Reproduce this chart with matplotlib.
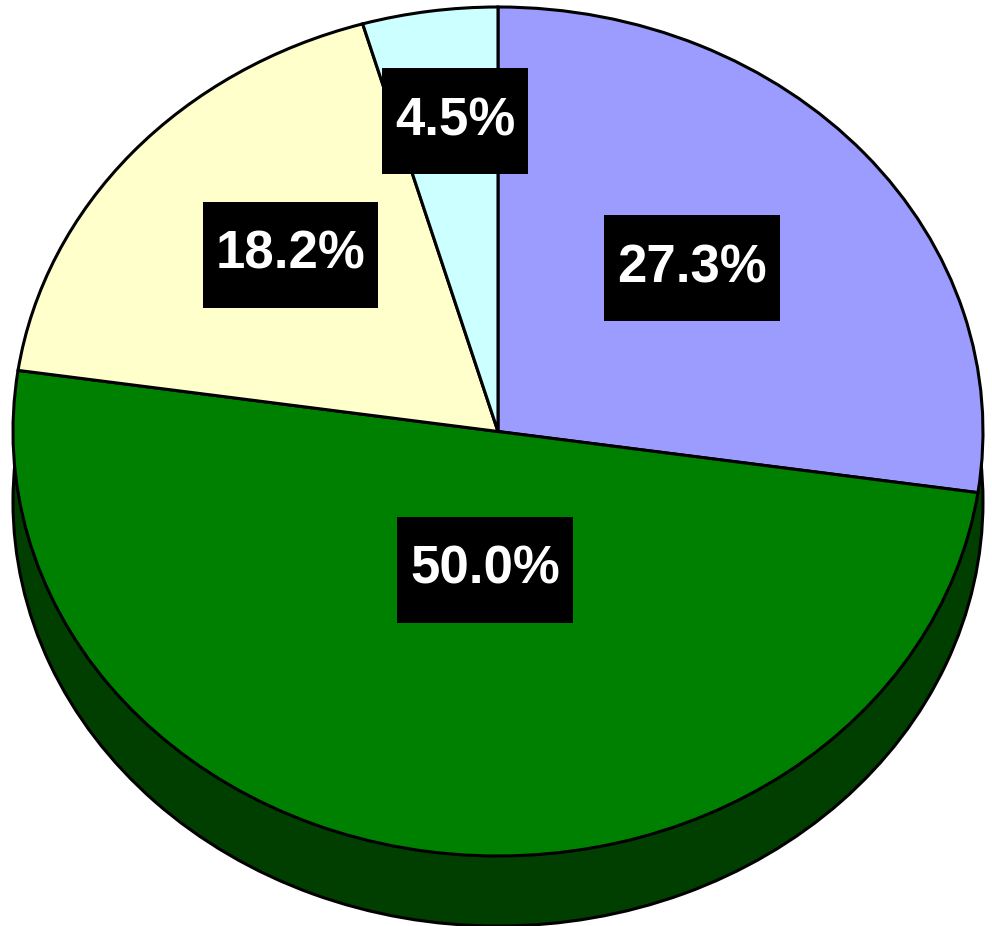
import matplotlib

matplotlib.use("Agg")
import matplotlib.pyplot as plt
import numpy as np
from matplotlib.patches import Rectangle
from matplotlib.transforms import ScaledTranslation

# slice values, clockwise from 12 o'clock
shares = [27.3, 50.0, 18.2, 4.5]
slice_colors = ["#9c9cff", "#008000", "#ffffcc", "#ccffff"]
side_color = "#003f00"

# where each percentage box sits: distance (fraction of radius) and
# angular nudge from the wedge bisector (degrees)
label_dist = [0.555, 0.327, 0.597, 0.736]
label_nudge = [3.0, 3.6, -3.2, -1.2]
depth = 0.165  # extrusion thickness in radius units

fig = plt.figure(figsize=(9.92, 9.26), dpi=100)
ax = fig.add_axes([0, 0, 1, 1])

edge = dict(edgecolor="black", linewidth=2.2)

# extruded side: a full dark green disc pushed down
ax.pie([100], colors=[side_color], center=(0, -depth), wedgeprops=edge)

wedges, _, pct_texts = ax.pie(
    shares,
    colors=slice_colors,
    startangle=90,
    counterclock=False,
    autopct="%1.1f%%",
    wedgeprops=edge,
)

for w, t, d, nudge in zip(wedges, pct_texts, label_dist, label_nudge):
    mid = np.deg2rad((w.theta1 + w.theta2) / 2 + nudge)
    t.set_position((d * np.cos(mid), d * np.sin(mid)))
    t.set_color("white")
    t.set_fontsize(38)
    t.set_fontweight("bold")
    t.set_family(["Liberation Sans", "DejaVu Sans"])
    t.set_zorder(6)

# stretch the pie into the ellipse of the original
ax.set_aspect("auto")
ax.set_xlim(-1.0268, 1.0186)
ax.set_ylim(-1.1649, 1.0165)
ax.axis("off")

# black label boxes: fixed height, width follows the text
fig.canvas.draw()
renderer = fig.canvas.get_renderer()
box_h = 1.06  # inches
for t in pct_texts:
    ext = t.get_window_extent(renderer)
    box_w = ext.width / fig.dpi + 0.26
    x, y = t.get_position()
    trans = fig.dpi_scale_trans + ScaledTranslation(x, y, ax.transData)
    ax.add_patch(Rectangle((-box_w / 2, -box_h / 2), box_w, box_h,
                           transform=trans, facecolor="black",
                           edgecolor="none", zorder=5, clip_on=False))

fig.savefig("out.png", dpi=100, facecolor="white")
